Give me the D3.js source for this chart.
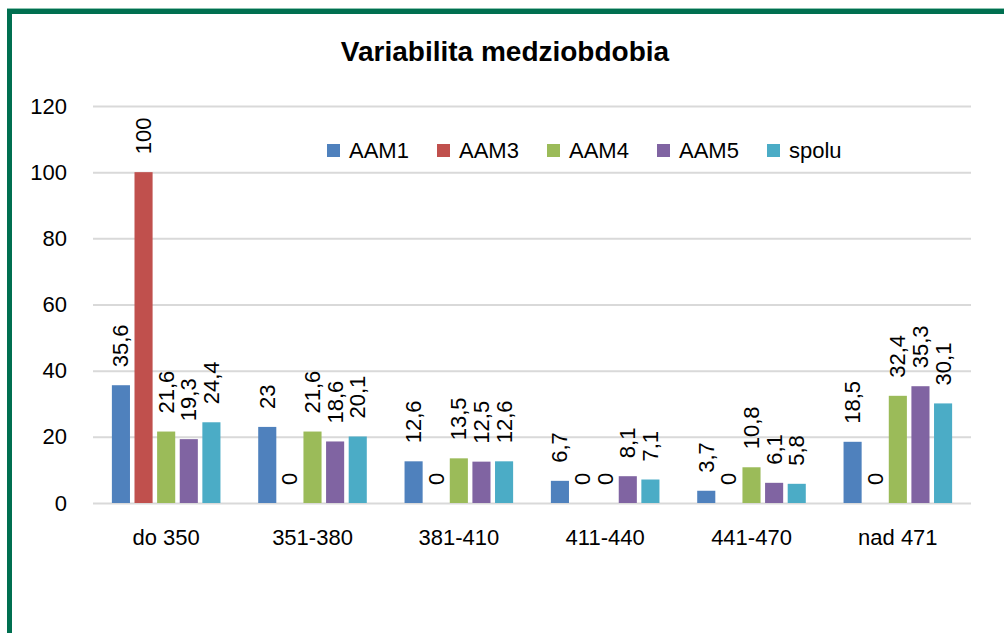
<!DOCTYPE html>
<html>
<head>
<meta charset="utf-8">
<script src="https://cdn.jsdelivr.net/npm/d3@7"></script>
<style>
  html, body { margin: 0; padding: 0; background: #fff; }
  svg { display: block; font-family: "Liberation Sans", Arial, sans-serif; }
</style>
</head>
<body>
<svg id="chart" width="1004" height="633"></svg>
<script>
const categories = ["do 350", "351-380", "381-410", "411-440", "441-470", "nad 471"];
const seriesNames = ["AAM1", "AAM3", "AAM4", "AAM5", "spolu"];
const aam1 = [35.6, 23, 12.6, 6.7, 3.7, 18.5];
const aam3 = [100, 0, 0, 0, 0, 0];
const aam4 = [21.6, 21.6, 13.5, 0, 10.8, 32.4];
const aam5 = [19.3, 18.6, 12.5, 8.1, 6.1, 35.3];
const spolu = [24.4, 20.1, 12.6, 7.1, 5.8, 30.1];
const yTicks = [0, 20, 40, 60, 80, 100, 120];
const colors = ["#4f81bd", "#c0504d", "#9bbb59", "#8064a2", "#4bacc6"];

const values = [aam1, aam3, aam4, aam5, spolu];
const svg = d3.select("#chart");

// green frame (right/bottom run off the picture)
svg.append("rect")
  .attr("x", 9.5).attr("y", 11.5)
  .attr("width", 1100).attr("height", 800)
  .attr("fill", "none")
  .attr("stroke", "#006f50")
  .attr("stroke-width", 5);
svg.append("line")
  .attr("x1", 7).attr("x2", 1004).attr("y1", 8.5).attr("y2", 8.5)
  .attr("stroke", "#8cc4b0").attr("stroke-width", 1);

const plotLeft = 93, plotRight = 971, plotTop = 106, plotBottom = 503;

const x0 = d3.scaleBand()
  .domain(categories)
  .range([plotLeft, plotRight])
  .paddingInner(0.258)
  .paddingOuter(0.129);

const x1 = d3.scaleBand()
  .domain(seriesNames)
  .range([0, x0.bandwidth()])
  .paddingInner(0.2);

const y = d3.scaleLinear().domain([0, 120]).range([plotBottom, plotTop]);

// gridlines + y labels
const yAxis = svg.append("g")
  .attr("transform", `translate(${plotLeft},0)`)
  .call(d3.axisLeft(y).tickValues(yTicks).tickSize(-(plotRight - plotLeft)).tickPadding(26));
yAxis.select(".domain").remove();
yAxis.selectAll(".tick line").attr("stroke", "#d9d9d9").attr("stroke-width", 2);
yAxis.selectAll(".tick text")
  .attr("fill", "#000")
  .style("font-size", "22px")
  .style("font-family", "Liberation Sans, Arial, sans-serif");

// x labels
const xAxis = svg.append("g")
  .attr("transform", `translate(0,${plotBottom})`)
  .call(d3.axisBottom(x0).tickSize(0).tickPadding(26));
xAxis.select(".domain").remove();
xAxis.selectAll(".tick text")
  .attr("fill", "#000")
  .style("font-size", "22px")
  .style("font-family", "Liberation Sans, Arial, sans-serif");

// bars
const rows = categories.map((c, i) => ({
  cat: c,
  items: seriesNames.map((s, j) => ({ s, j, v: values[j][i] }))
}));

const groups = svg.selectAll("g.grp")
  .data(rows)
  .enter().append("g")
  .attr("class", "grp")
  .attr("transform", d => `translate(${x0(d.cat)},0)`);

groups.selectAll("rect")
  .data(d => d.items)
  .enter().append("rect")
  .attr("x", d => x1(d.s))
  .attr("y", d => y(d.v))
  .attr("width", x1.bandwidth())
  .attr("height", d => y(0) - y(d.v))
  .attr("fill", d => colors[d.j]);

groups.selectAll("text")
  .data(d => d.items)
  .enter().append("text")
  .attr("transform", d => `translate(${x1(d.s) + x1.bandwidth() / 2},${y(d.v) - 18}) rotate(-90)`)
  .attr("dominant-baseline", "central")
  .attr("text-anchor", "start")
  .style("font-size", "22px")
  .attr("fill", "#000")
  .text(d => String(d.v).replace(".", ","));

// title
svg.append("text")
  .attr("x", 505).attr("y", 61)
  .attr("text-anchor", "middle")
  .style("font-size", "28px")
  .style("font-weight", "bold")
  .text("Variabilita medziobdobia");

// legend
const legend = svg.selectAll("g.leg")
  .data(seriesNames)
  .enter().append("g")
  .attr("class", "leg")
  .attr("transform", (d, i) => `translate(${327 + i * 110},144)`);
legend.append("rect")
  .attr("width", 13).attr("height", 13)
  .attr("fill", (d, i) => colors[i]);
legend.append("text")
  .attr("x", 22).attr("y", 14)
  .style("font-size", "22px")
  .text(d => d);
</script>
</body>
</html>
